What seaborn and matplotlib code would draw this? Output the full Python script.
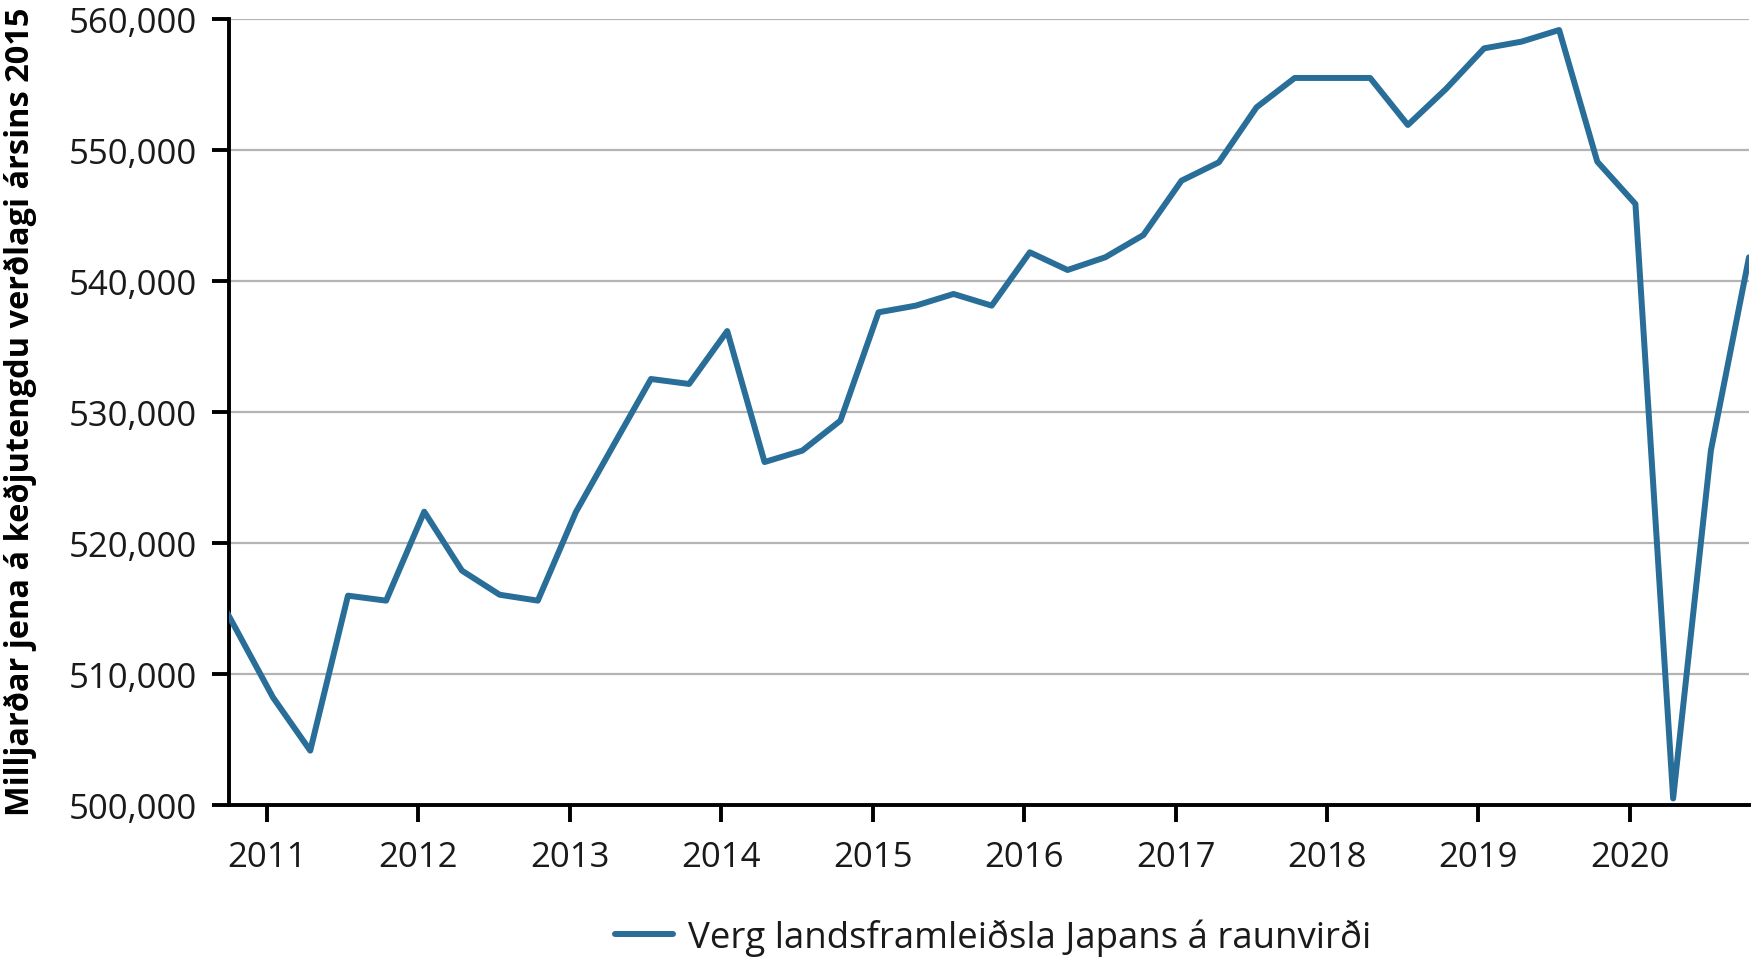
import matplotlib
matplotlib.use("Agg")
import matplotlib.pyplot as plt
import matplotlib.dates as mdates
import matplotlib.ticker as mticker
from matplotlib import font_manager
import seaborn as sns
import pandas as pd

# ---- data ----
quarters = [
    "2010Q3", "2010Q4",
    "2011Q1", "2011Q2", "2011Q3", "2011Q4",
    "2012Q1", "2012Q2", "2012Q3", "2012Q4",
    "2013Q1", "2013Q2", "2013Q3", "2013Q4",
    "2014Q1", "2014Q2", "2014Q3", "2014Q4",
    "2015Q1", "2015Q2", "2015Q3", "2015Q4",
    "2016Q1", "2016Q2", "2016Q3", "2016Q4",
    "2017Q1", "2017Q2", "2017Q3", "2017Q4",
    "2018Q1", "2018Q2", "2018Q3", "2018Q4",
    "2019Q1", "2019Q2", "2019Q3", "2019Q4",
    "2020Q1", "2020Q2", "2020Q3", "2020Q4",
]
gdp = [
    518900, 513600,
    508220, 504150, 515980, 515600,
    522390, 517890, 516050, 515600,
    522370, 527430, 532520, 532140,
    536180, 526180, 527050, 529340,
    537610, 538120, 539010, 538120,
    542190, 540840, 541810, 543510,
    547660, 549060, 553260, 555500,
    555500, 555500, 551910, 554660,
    557760, 558270, 559160, 549110,
    545880, 500500, 527050, 541810,
]
series_label = "Verg landsframleiðsla Japans á raunvirði"
y_label = "Milljarðar jena á keðjutengdu verðlagi ársins 2015"
y_ticks = [500000, 510000, 520000, 530000, 540000, 550000, 560000]

# ---- styling ----
sns.set_theme(style="white")
available = {f.name for f in font_manager.fontManager.ttflist}
base_font = "Open Sans" if "Open Sans" in available else "DejaVu Sans"
plt.rcParams["font.family"] = [base_font, "DejaVu Sans"]

line_color = "#286e98"

dates = pd.PeriodIndex(quarters, freq="Q").to_timestamp() + pd.Timedelta(days=14)
df = pd.DataFrame({"date": dates, "value": gdp})

fig = plt.figure(figsize=(17.53, 9.62), dpi=100)
ax = fig.add_axes([229 / 1753, 1 - 806 / 962, (1749 - 229) / 1753, (806 - 20) / 962])

sns.lineplot(data=df, x="date", y="value", ax=ax, color=line_color,
             linewidth=4.3, label=series_label, zorder=5)

ax.set_xlim(pd.Timestamp("2010-10-01"), dates[-1])
ax.set_ylim(y_ticks[0], y_ticks[-1])
ax.set_yticks(y_ticks)
ax.yaxis.set_major_formatter(mticker.FuncFormatter(lambda v, p: f"{v:,.0f}"))
ax.xaxis.set_major_locator(mdates.YearLocator())
ax.xaxis.set_major_formatter(mdates.DateFormatter("%Y"))

ax.grid(axis="y", color="#b4b4b4", linewidth=1.6, zorder=0)
ax.grid(axis="x", visible=False)
for s in ["top", "right"]:
    ax.spines[s].set_visible(False)
for s in ["left", "bottom"]:
    ax.spines[s].set_color("black")
    ax.spines[s].set_linewidth(2.8)
    ax.spines[s].set_zorder(4)

ax.tick_params(axis="both", which="major", length=12, width=2.8, color="black",
               labelsize=25, labelcolor="#1a1a1a", pad=11, direction="out",
               left=True, bottom=True)
ax.tick_params(axis="x", pad=13)
ax.set_xlabel("")
ax.set_ylabel("")

# y label (bold, fitted to reference length)
ylab = fig.text(20 / 1753, 1 - 412 / 962, y_label, rotation=90, ha="center",
                va="center", fontsize=22, fontweight="bold", color="black")
fig.canvas.draw()
r = fig.canvas.get_renderer()
h = ylab.get_window_extent(r).height
ylab.set_fontsize(22 * 806 / h)

# legend below
leg = ax.legend(loc="center", bbox_to_anchor=(993 / 1753, 1 - 938 / 962),
                bbox_transform=fig.transFigure, frameon=False, fontsize=26.4,
                handlelength=1.6, handletextpad=0.4)
for t in leg.get_texts():
    t.set_color("#1a1a1a")

fig.savefig("out.png", dpi=100, facecolor="white")
